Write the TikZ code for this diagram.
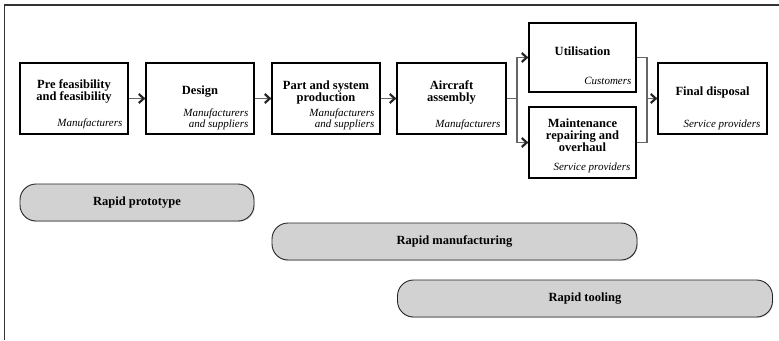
\documentclass[tikz,border=0pt]{standalone}
\usepackage{fontspec}
\setmainfont{Liberation Serif}
\usetikzlibrary{arrows.meta,shadows}
\begin{document}
\begin{tikzpicture}[x=1pt,y=-1pt,
  box/.style={draw=black, line width=1.2pt, fill=white, minimum width=108pt, minimum height=71pt, inner sep=0pt},
  title/.style={font=\fontsize{12.5}{12}\selectfont\bfseries, align=center, inner sep=0pt},
  who/.style={font=\fontsize{11}{9}\selectfont\itshape, align=right, inner sep=0pt, anchor=south east, text depth=2.5pt},
  link/.style={draw=black!60, line width=1.4pt},
  flow/.style={link, -{Straight Barb[length=5pt,width=9pt,line width=2.2pt,color=black!85]}},
  pill/.style={draw=black!85, line width=0.9pt, fill=gray!35, rounded corners=16pt, minimum height=37pt, inner sep=0pt,
    font=\fontsize{12.5}{12}\selectfont\bfseries,
    drop shadow={shadow xshift=0.8pt, shadow yshift=-1pt, opacity=0.25}},
]
\useasboundingbox (0,0) rectangle (779,340);

% frame (top and left edges)
\draw[line width=1.4pt, black!80] (779,5) -- (4.5,5) -- (4.5,340);

% life-cycle stages
\node[box] (b1) at (74,98.5) {};
\node[box] (b2) at (200,98.5) {};
\node[box] (b3) at (326,98.5) {};
\node[box, minimum width=109pt] (b4) at (451.5,98.5) {};
\node[box, minimum width=107pt, minimum height=69pt] (util) at (582.5,57.5) {};
\node[box, minimum width=107pt] (maint) at (582.5,142.5) {};
\node[box, minimum width=109pt] (final) at (712.5,98.5) {};

\node[title] (b1t) at ([yshift=7pt]b1.center) {Pre feasibility\\and feasibility};
\node[title] (b2t) at ([yshift=7pt]b2.center) {Design};
\node[title] (b3t) at ([yshift=6pt]b3.center) {Part and system\\production};
\node[title] (b4t) at ([yshift=6.5pt]b4.center) {Aircraft\\assembly};
\node[title] (utilt) at ([yshift=6.5pt]util.center) {Utilisation};
\node[title] (maintt) at ([yshift=7.5pt]maint.center) {Maintenance\\repairing and\\overhaul};
\node[title] (finalt) at ([yshift=6pt]final.center) {Final disposal};

\node[who] (b1s) at ([xshift=-6pt,yshift=5pt]b1.south east) {Manufacturers};
\node[who] (b2s) at ([xshift=-6pt,yshift=4pt]b2.south east) {Manufacturers\\and suppliers};
\node[who] (b3s) at ([xshift=-6pt,yshift=4pt]b3.south east) {Manufacturers\\and suppliers};
\node[who] (b4s) at ([xshift=-6pt,yshift=4pt]b4.south east) {Manufacturers};
\node[who] (utils) at ([xshift=-5pt,yshift=5pt]util.south east) {Customers};
\node[who] (maints) at ([xshift=-6pt,yshift=5pt]maint.south east) {Service providers};
\node[who] (finals) at ([xshift=-7pt,yshift=4pt]final.south east) {Service providers};

% connectors
\coordinate (split) at (517,98.5);
\coordinate (merge) at (647,98.5);
\draw[flow] (b1) -- (b2);
\draw[flow] (b2) -- (b3);
\draw[flow] (b3) -- (b4);
\draw[link] (b4.east) -- (split);
\draw[flow] (split) |- (util.west);
\draw[flow] (split) |- (maint.west);
\draw[link] (util.east) -| (merge);
\draw[link] (maint.east) -| (merge);
\draw[flow] (merge) -- (final.west);

% rapid technologies
\node[pill, minimum width=234pt] (rp) at (137,202.5) {Rapid prototype};
\node[pill, minimum width=365pt] (rm) at (454.5,241.5) {Rapid manufacturing};
\node[pill, minimum width=375pt] (rt) at (585,298.5) {Rapid tooling};
\end{tikzpicture}
\end{document}
